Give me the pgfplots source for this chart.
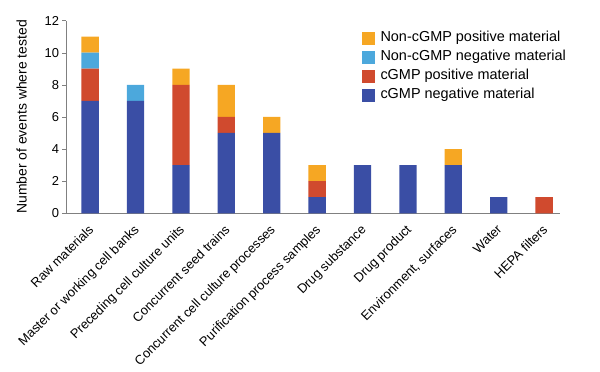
\documentclass[border=0pt]{standalone}
\usepackage{fontspec}
\setmainfont{Liberation Sans}
\usepackage{pgfplots}
\pgfplotsset{compat=1.18}
\definecolor{cneg}{RGB}{58,78,165}
\definecolor{cpos}{RGB}{208,74,46}
\definecolor{nneg}{RGB}{76,168,220}
\definecolor{npos}{RGB}{246,167,35}
\begin{document}
\begin{tikzpicture}
\useasboundingbox (-66.5bp,-158.7bp) rectangle (533.5bp,213.3bp);
\begin{axis}[
  at={(0,0)}, anchor=south west,
  scale only axis, width=493.5bp, height=192.8bp,
  ybar stacked, bar width=17.3bp,
  xmin=-0.52, xmax=10.35, ymin=0, ymax=12,
  axis x line*=bottom, axis y line*=left,
  axis line style={-, draw=gray},
  xtick={0,...,10},
  xticklabels={Raw materials, Master or working cell banks, Preceding cell culture units, Concurrent seed trains, Concurrent cell culture processes, Purification process samples, Drug substance, Drug product, {Environment, surfaces}, Water, HEPA filters},
  xtick style={draw=none},
  xticklabel style={xshift=-2.5bp, yshift=-3.5bp, rotate=45, anchor=north east, font=\fontsize{13}{15}\selectfont, inner sep=2bp},
  ytick={0,2,...,12},
  ytick style={draw=gray},
  major tick length=4bp,
  tick align=outside,
  yticklabel style={font=\fontsize{13}{15}\selectfont},
  /pgf/number format/assume math mode=true,
  ylabel={Number of events where tested},
  every axis y label/.style={at={(axis description cs:-0.091,0.5)}, rotate=90, anchor=center, font=\fontsize{14}{16}\selectfont},
  legend style={at={(axis description cs:0.598,0.943)}, anchor=north west, draw=none, fill=none, inner sep=0pt, font=\fontsize{14.5}{16}\selectfont, row sep=6bp, column sep=6bp, nodes={inner sep=0pt, text height=10bp, text depth=3bp}},
  legend cell align=left,
  reverse legend,
  legend image code/.code={\fill[#1] (0bp,-6.5bp) rectangle (12.7bp,6.5bp);},
]
\addplot[fill=cneg, draw=none] coordinates {(0,7) (1,7) (2,3) (3,5) (4,5) (5,1) (6,3) (7,3) (8,3) (9,1) (10,0)};
\addplot[fill=cpos, draw=none] coordinates {(0,2) (1,0) (2,5) (3,1) (4,0) (5,1) (6,0) (7,0) (8,0) (9,0) (10,1)};
\addplot[fill=nneg, draw=none] coordinates {(0,1) (1,1) (2,0) (3,0) (4,0) (5,0) (6,0) (7,0) (8,0) (9,0) (10,0)};
\addplot[fill=npos, draw=none] coordinates {(0,1) (1,0) (2,1) (3,2) (4,1) (5,1) (6,0) (7,0) (8,1) (9,0) (10,0)};
\legend{cGMP negative material, cGMP positive material, Non-cGMP negative material, Non-cGMP positive material}
\end{axis}
\end{tikzpicture}
\end{document}
